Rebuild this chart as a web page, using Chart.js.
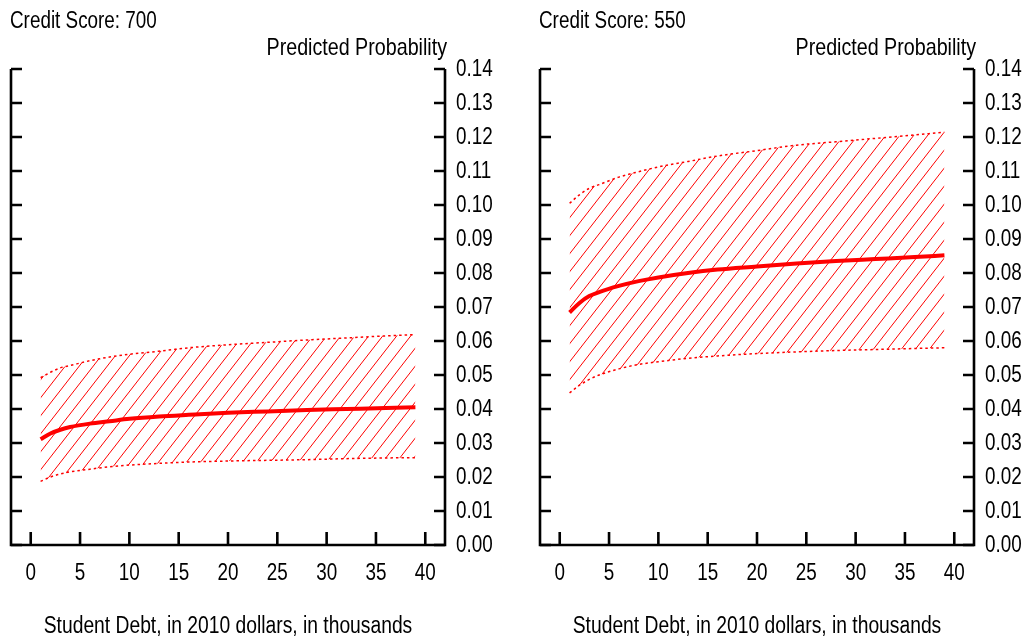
<!DOCTYPE html>
<html><head><meta charset="utf-8">
<script src="https://cdn.jsdelivr.net/npm/chart.js@4.4.1/dist/chart.umd.min.js"></script>
<style>
html,body{margin:0;padding:0;background:#fff;overflow:hidden}
#wrap{position:relative;width:1028px;height:643px;background:#fff}
canvas{position:absolute;top:0}
#c1{left:0}
#c2{left:529px}
</style></head><body>
<div id="wrap"><canvas id="c1" width="529" height="643"></canvas><canvas id="c2" width="499" height="643"></canvas></div>
<script>
// ---- data ----
const debt = [1, 2, 3, 4, 6, 8, 10, 13, 16, 20, 24, 28, 32, 36, 39];
const xTicks = [0, 5, 10, 15, 20, 25, 30, 35, 40];
const yTicks = [0, 0.01, 0.02, 0.03, 0.04, 0.05, 0.06, 0.07, 0.08, 0.09, 0.10, 0.11, 0.12, 0.13, 0.14];
const panelTitles = ['Credit Score: 700', 'Credit Score: 550'];
const yAxisLabel = 'Predicted Probability';
const xAxisLabel = 'Student Debt, in 2010 dollars, in thousands';

const score700Mid   = [0.0311, 0.0328, 0.0339, 0.0347, 0.0357, 0.0364, 0.0371, 0.0378, 0.0383, 0.0389, 0.0393, 0.0397, 0.0400, 0.0403, 0.0405];
const score700Upper = [0.0492, 0.0508, 0.0521, 0.0528, 0.0542, 0.0553, 0.0561, 0.0570, 0.0580, 0.0589, 0.0596, 0.0603, 0.0609, 0.0615, 0.0619];
const score700Lower = [0.0187, 0.0200, 0.0209, 0.0215, 0.0223, 0.0230, 0.0235, 0.0240, 0.0244, 0.0247, 0.0249, 0.0251, 0.0254, 0.0256, 0.0257];

const score550Mid   = [0.0684, 0.0712, 0.0732, 0.0744, 0.0762, 0.0776, 0.0787, 0.0800, 0.0810, 0.0819, 0.0828, 0.0835, 0.0841, 0.0847, 0.0852];
const score550Upper = [0.1005, 0.1030, 0.1049, 0.1060, 0.1082, 0.1098, 0.1112, 0.1128, 0.1144, 0.1160, 0.1176, 0.1186, 0.1196, 0.1206, 0.1214];
const score550Lower = [0.0447, 0.0470, 0.0487, 0.0500, 0.0518, 0.0531, 0.0539, 0.0549, 0.0556, 0.0563, 0.0568, 0.0572, 0.0575, 0.0578, 0.0580];

const FONT = '"Liberation Sans", Arial, sans-serif';
const NARROW = 0.82;   // horizontal compression to mimic a narrow sans face
const RED = '#ff0000';

function makeHatch() {
  const w = 14, h = 18;
  const c = document.createElement('canvas');
  c.width = w; c.height = h;
  const g = c.getContext('2d');
  g.strokeStyle = RED; g.lineWidth = 1;
  for (let n = 0; n <= 2; n++) {
    g.beginPath();
    g.moveTo(n * w - 2 * w, 2 * h);
    g.lineTo(n * w + 2 * w, -2 * h);
    g.stroke();
  }
  return g.createPattern(c, 'repeat');
}

function narrowText(ctx, text, x, y, size, align, baseline) {
  ctx.save();
  ctx.font = size + 'px ' + FONT;
  ctx.textAlign = align;
  ctx.textBaseline = baseline;
  ctx.fillStyle = '#000';
  ctx.translate(x, y);
  ctx.scale(NARROW, 1);
  ctx.fillText(text, 0, 0);
  ctx.restore();
}

const framePlugin = {
  id: 'frame',
  afterDraw(chart, args, opts) {
    const {ctx, chartArea: {left, right, top, bottom}, scales: {x, y}} = chart;
    ctx.save();
    ctx.strokeStyle = '#000';
    ctx.lineWidth = 2.6;
    ctx.lineJoin = 'miter';
    ctx.lineCap = 'butt';
    ctx.beginPath();
    ctx.moveTo(left, top);
    ctx.lineTo(left, bottom);
    ctx.lineTo(right, bottom);
    ctx.lineTo(right, top);
    ctx.stroke();
    ctx.beginPath();
    y.ticks.forEach(t => {
      const py = y.getPixelForValue(t.value);
      ctx.moveTo(left, py); ctx.lineTo(left + 11, py);
      ctx.moveTo(right, py); ctx.lineTo(right - 11, py);
    });
    x.ticks.forEach(t => {
      const px = x.getPixelForValue(t.value);
      ctx.moveTo(px, bottom); ctx.lineTo(px, bottom - 13);
    });
    ctx.stroke();
    ctx.restore();
    // tick labels
    y.ticks.forEach(t => {
      narrowText(ctx, Number(t.value).toFixed(2), right + 11, y.getPixelForValue(t.value) + 1, 23, 'left', 'middle');
    });
    x.ticks.forEach(t => {
      narrowText(ctx, String(t.value), x.getPixelForValue(t.value), bottom + 29, 23, 'center', 'middle');
    });
    // titles
    narrowText(ctx, opts.title, 10, 28, 23, 'left', 'alphabetic');
    narrowText(ctx, yAxisLabel, right + 2, 55, 24, 'right', 'alphabetic');
    narrowText(ctx, xAxisLabel, (left + right) / 2, 633, 23.5, 'center', 'alphabetic');
  }
};

function pts(arr) { return debt.map((d, i) => ({x: d, y: arr[i]})); }

function makeChart(id, title, upper, mid, lower) {
  const cv = document.getElementById(id);
  const hatch = makeHatch();
  const common = {pointRadius: 0, pointHoverRadius: 0, cubicInterpolationMode: 'monotone'};
  return new Chart(cv, {
    type: 'line',
    data: {
      datasets: [
        Object.assign({label: 'upper', data: pts(upper), borderColor: RED, borderWidth: 1.5, borderDash: [2.5, 3], fill: '+1', backgroundColor: hatch}, common),
        Object.assign({label: 'lower', data: pts(lower), borderColor: RED, borderWidth: 1.5, borderDash: [2.5, 3], fill: false}, common),
        Object.assign({label: 'predicted', data: pts(mid), borderColor: RED, borderWidth: 4, fill: false}, common)
      ]
    },
    options: {
      responsive: false,
      animation: false,
      devicePixelRatio: 1,
      layout: {padding: {left: 11, top: 69, right: 0, bottom: 0}},
      plugins: {legend: {display: false}, tooltip: {enabled: false}, frame: {title: title}},
      scales: {
        x: {
          type: 'linear', position: 'bottom', min: -2, max: 42,
          afterBuildTicks: s => { s.ticks = xTicks.map(v => ({value: v})); },
          afterFit: s => { s.height = 98; },
          grid: {display: false, drawTicks: false},
          border: {display: false},
          ticks: {display: false}
        },
        y: {
          type: 'linear', position: 'right', min: 0, max: 0.14,
          afterBuildTicks: s => { s.ticks = yTicks.map(v => ({value: v})); },
          afterFit: s => { s.width = s.chart.width - 445; },
          grid: {display: false, drawTicks: false},
          border: {display: false},
          ticks: {display: false}
        }
      }
    },
    plugins: [framePlugin]
  });
}

makeChart('c1', panelTitles[0], score700Upper, score700Mid, score700Lower);
makeChart('c2', panelTitles[1], score550Upper, score550Mid, score550Lower);
</script>
</body></html>
